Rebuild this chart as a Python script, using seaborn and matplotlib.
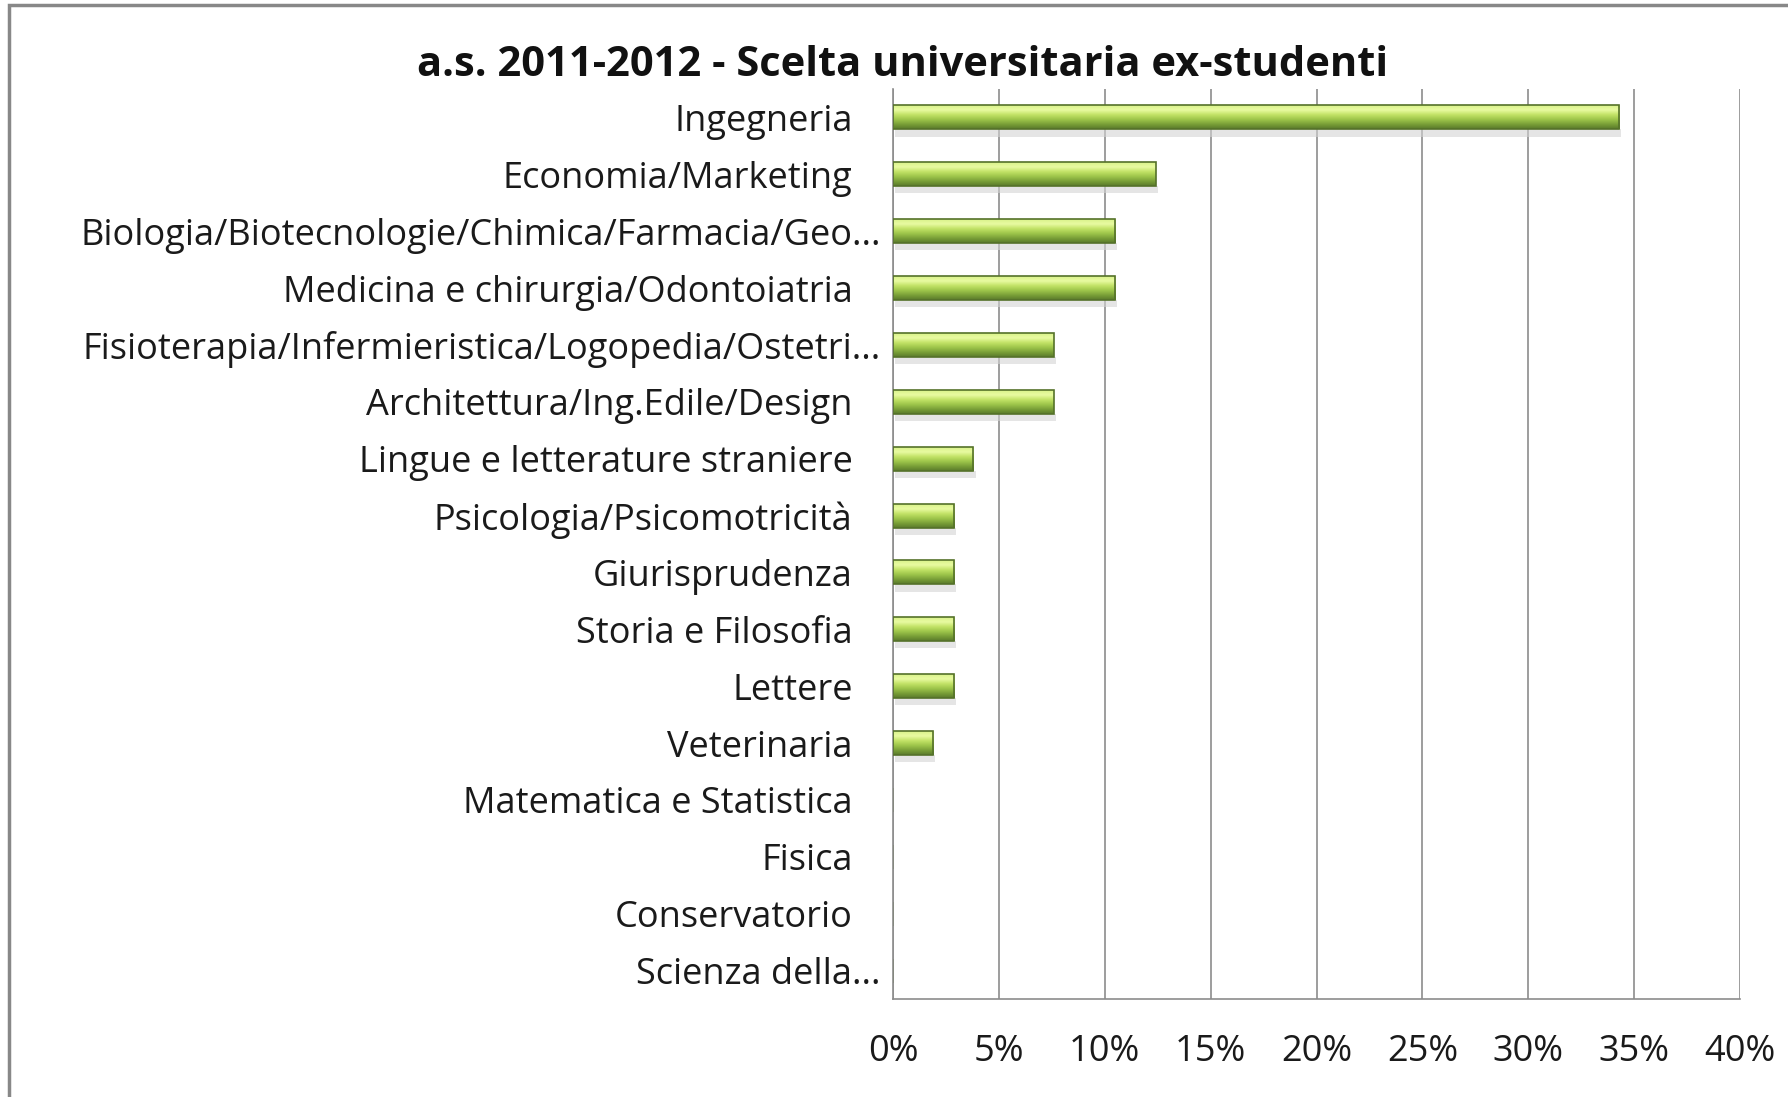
import numpy as np
import matplotlib
matplotlib.use("Agg")
import matplotlib.pyplot as plt
import matplotlib.transforms as mtransforms
from matplotlib.patches import Rectangle
import seaborn as sns
import pandas as pd

# data (percent of ex-students)
facolta = [
    "Ingegneria",
    "Economia/Marketing",
    "Biologia/Biotecnologie/Chimica/Farmacia/Geo...",
    "Medicina e chirurgia/Odontoiatria",
    "Fisioterapia/Infermieristica/Logopedia/Ostetri...",
    "Architettura/Ing.Edile/Design",
    "Lingue e letterature straniere",
    "Psicologia/Psicomotricità",
    "Giurisprudenza",
    "Storia e Filosofia",
    "Lettere",
    "Veterinaria",
    "Matematica e Statistica",
    "Fisica",
    "Conservatorio",
    "Scienza della...",
]
percentuali = [34.3, 12.4, 10.5, 10.5, 7.6, 7.6, 3.8, 2.9, 2.9, 2.9, 2.9, 1.9, 0, 0, 0, 0]
tick_valori = [0, 5, 10, 15, 20, 25, 30, 35, 40]
tick_etichette = ["0%", "5%", "10%", "15%", "20%", "25%", "30%", "35%", "40%"]
titolo = "a.s. 2011-2012 - Scelta universitaria ex-studenti"

df = pd.DataFrame({"facolta": facolta, "perc": percentuali})

sns.set_style("white")
plt.rcParams["font.family"] = ["Open Sans", "DejaVu Sans"]

fig = plt.figure(figsize=(17.88, 10.97), dpi=100)
ax = fig.add_axes([0.4994, 0.0893, 0.4738, 0.8296])

sns.barplot(data=df, x="perc", y="facolta", orient="h", color="#8DB43E",
            width=0.42, edgecolor="#55722A", linewidth=1.2, saturation=1, ax=ax)

# gradient fill to mimic the bevelled excel bars
grad = np.linspace(0, 1, 64).reshape(-1, 1)
cmap = matplotlib.colors.LinearSegmentedColormap.from_list(
    "bevel", ["#D9F28A", "#E9FBA2", "#C2E266", "#9EC64B", "#7AA038", "#5A7A2B"])
for bar in ax.patches:
    w = bar.get_width()
    if w <= 0:
        continue
    x0, y0, h = bar.get_x(), bar.get_y(), bar.get_height()
    # soft shadow under the bar
    ax.add_patch(Rectangle((x0 + 0.1, y0 + h), w, h * 0.3, color="#d4d4d4",
                           alpha=0.6, lw=0, zorder=1))
    im = ax.imshow(grad, extent=(x0, x0 + w, y0 + h, y0), aspect="auto",
                   cmap=cmap, zorder=2, interpolation="bicubic")
    im.set_clip_path(bar)
    bar.set_facecolor("none")
    bar.set_zorder(3)

ax.set_xlim(0, 40)
ax.set_ylim(15.5, -0.5)
ax.set_xticks(tick_valori)
ax.set_xticklabels(tick_etichette)
ax.xaxis.grid(True, color="#8c8c8c", linewidth=1.2)
ax.set_axisbelow(True)
ax.set_xlabel("")
ax.set_ylabel("")
ax.tick_params(axis="x", length=0, pad=25, labelsize=26, colors="#1a1a1a")
ax.tick_params(axis="y", length=0, pad=29, labelsize=26, colors="#1a1a1a")

for side in ["top", "right"]:
    ax.spines[side].set_visible(False)
for side in ["left", "bottom"]:
    ax.spines[side].set_color("#8c8c8c")
    ax.spines[side].set_linewidth(1.2)

# labels cut with "..." stick out a bit further, like in excel
for lab in ax.get_yticklabels():
    if lab.get_text().endswith("..."):
        off = mtransforms.ScaledTranslation(28 / 100, 0, fig.dpi_scale_trans)
        lab.set_transform(lab.get_transform() + off)

fig.text(0.505, 1 - 65 / 1097, titolo, ha="center", va="center",
         fontsize=30, fontweight="bold", color="#111111")

# chart border
fig.patches.append(Rectangle((9 / 1788, -0.05), 1.1, 1 - 5 / 1097 + 0.05,
                             transform=fig.transFigure, fill=False,
                             edgecolor="#888888", linewidth=2.5))

fig.savefig("out.png", dpi=100)
